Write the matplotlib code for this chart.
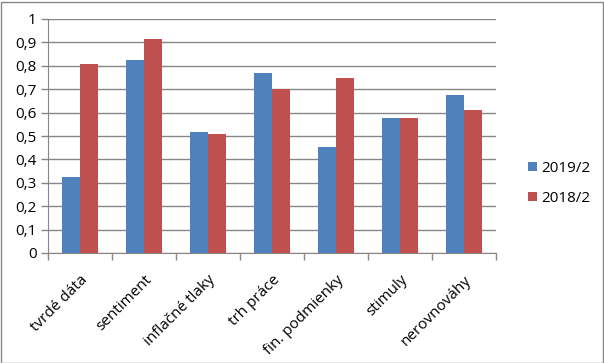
import numpy as np
import matplotlib.pyplot as plt
from matplotlib.patches import Rectangle

# data
categories = ['tvrdé dáta', 'sentiment', 'inflačné tlaky', 'trh práce',
              'fin. podmienky', 'stimuly', 'nerovnováhy']
s2019 = [0.325, 0.825, 0.517, 0.770, 0.453, 0.577, 0.675]
s2018 = [0.808, 0.915, 0.509, 0.700, 0.748, 0.577, 0.611]
series_names = ['2019/2', '2018/2']
yticks = [0, 0.1, 0.2, 0.3, 0.4, 0.5, 0.6, 0.7, 0.8, 0.9, 1]

BLUE = '#4F81BD'
RED = '#C0504D'
GRID = '#868686'

plt.rcParams['font.family'] = ['Open Sans', 'DejaVu Sans']

W, H = 604, 363
fig = plt.figure(figsize=(W/100, H/100), dpi=100)
ax = fig.add_axes([48/W, (H-253)/H, (496-48)/W, (253-19)/H])

x = np.arange(len(categories))
bw = 0.28
ax.bar(x - bw/2, s2019, bw, color=BLUE, label=series_names[0], zorder=3)
ax.bar(x + bw/2, s2018, bw, color=RED, label=series_names[1], zorder=3)

ax.set_xlim(-0.5, len(categories)-0.5)
ax.set_ylim(0, 1)
ax.set_yticks(yticks)
ax.set_yticklabels([('%g' % v).replace('.', ',') for v in yticks], fontsize=11)
ax.yaxis.grid(True, color=GRID, linewidth=1, zorder=0)

ax.set_xticks(x)
ax.set_xticklabels(categories, rotation=45, ha='right', rotation_mode='anchor', fontsize=11)
ax.tick_params(axis='x', which='major', length=0, pad=14)
ax.set_xticks(np.arange(len(categories)+1) - 0.5, minor=True)
ax.tick_params(axis='x', which='minor', length=5, color=GRID, width=1)
ax.tick_params(axis='y', length=5, color=GRID, width=1, pad=3)

for side in ['top', 'right']:
    ax.spines[side].set_visible(False)
for side in ['left', 'bottom']:
    ax.spines[side].set_color(GRID)

leg = fig.legend(loc='upper left', bbox_to_anchor=(522/W, 1-155/H),
                 frameon=False, fontsize=11, handlelength=0.55, handleheight=0.55,
                 handletextpad=0.3, labelspacing=0.95, borderaxespad=0)

fig.patches.append(Rectangle((0.5/W, 0.5/H), 1-2/W, 1-2/H, transform=fig.transFigure,
                             fill=False, edgecolor='#888888', linewidth=1))

fig.savefig('out.png', dpi=100)
